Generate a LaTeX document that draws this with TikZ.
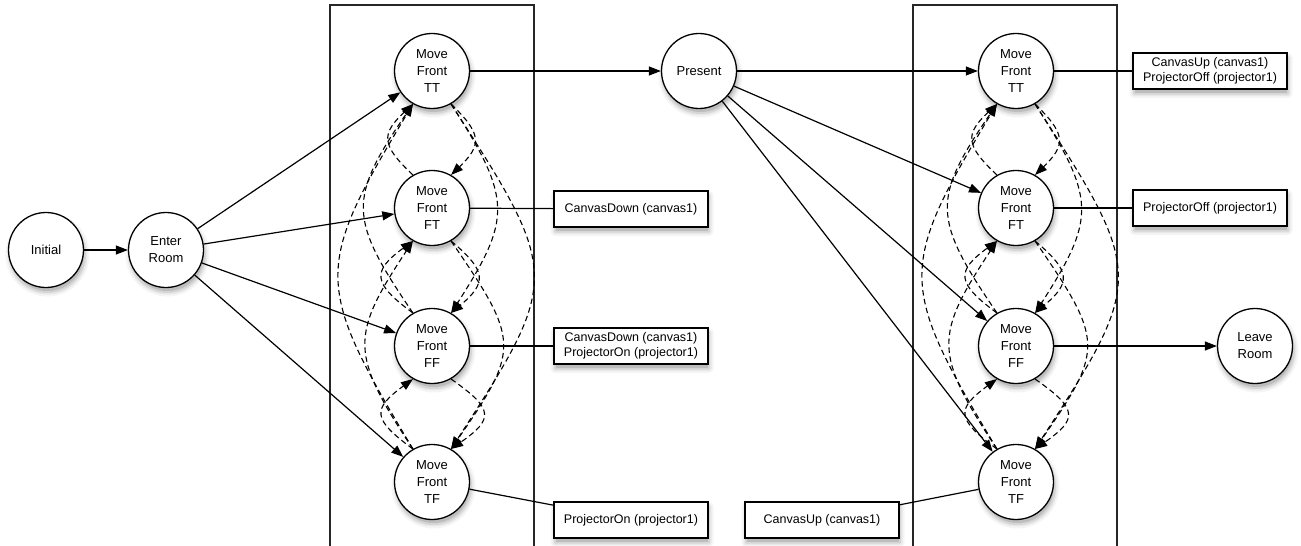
\documentclass[tikz,border=0pt]{standalone}
\usepackage{fontspec}
\setmainfont{Liberation Sans}
\usetikzlibrary{arrows.meta}

\tikzset{
  state/.style={circle, draw, fill=white, line width=1.3pt, minimum size=75pt,
    inner sep=0pt, align=center, font=\fontsize{13}{17}\selectfont},
  action/.style={rectangle, draw, fill=white, line width=1.3pt, minimum width=154pt,
    minimum height=36pt, inner sep=0pt, align=center, font=\fontsize{12.5}{15.5}\selectfont},
  lane/.style={draw=black!85, line width=1.2pt},
  flow/.style={line width=1.2pt, -{Triangle[length=12pt,width=9pt]}},
  link/.style={line width=1.2pt},
  trans/.style={line width=1.1pt, dash pattern=on 5.5pt off 3.5pt, -{Triangle[length=12pt,width=9pt]}},
}

% a state circle with a soft shadow below it: name, x, y, text
\newcommand\placestate[4]{%
  \begin{scope}[shift={(#2+1.5,#3-4.5)}]
    \fill[black!4]  (0,0) circle (42);
    \fill[black!9]  (0,0) circle (40);
    \fill[black!16] (0,0) circle (38.5);
    \fill[black!26] (0,0) circle (36.5);
  \end{scope}
  \node[state] (#1) at (#2,#3) {#4};}

% an action box with a soft shadow below it: name, x, y, text
\newcommand\placeaction[4]{%
  \begin{scope}[shift={(#2+1,#3-4.5)}]
    \fill[black!4,  rounded corners=4.5] (-81.5,-22.5) rectangle (81.5,22.5);
    \fill[black!9,  rounded corners=2.5] (-79.5,-20.5) rectangle (79.5,20.5);
    \fill[black!16, rounded corners=1]   (-78,-19) rectangle (78,19);
    \fill[black!26] (-76,-17) rectangle (76,17);
  \end{scope}
  \node[action] (#1) at (#2,#3) {#4};}

% all twelve moves between the four positions of one lane
\newcommand\moveedges[1]{%
  % downward moves leave the lower right and enter the upper right
  \draw[trans] (#1tt.-60) .. controls +(31,-30)   and +(31,30)   .. (#1ft.60);
  \draw[trans] (#1tt.-60) .. controls +(61,-95)   and +(61,95)   .. (#1ff.60);
  \draw[trans] (#1tt.-60) .. controls +(110,-170) and +(110,170) .. (#1tf.60);
  \draw[trans] (#1ft.-60) .. controls +(36,-30)   and +(36,30)   .. (#1ff.60);
  \draw[trans] (#1ft.-60) .. controls +(69,-100)  and +(69,100)  .. (#1tf.60);
  \draw[trans] (#1ff.-60) .. controls +(43,-30)   and +(43,30)   .. (#1tf.60);
  % upward moves leave the upper left and enter the lower left
  \draw[trans] (#1ft.120) .. controls +(-32,30)   and +(-32,-30)   .. (#1tt.-120);
  \draw[trans] (#1ff.120) .. controls +(-65,95)   and +(-65,-95)   .. (#1tt.-120);
  \draw[trans] (#1tf.120) .. controls +(-99,165)  and +(-99,-165)  .. (#1tt.-120);
  \draw[trans] (#1ff.120) .. controls +(-41,30)   and +(-41,-30)   .. (#1ft.-120);
  \draw[trans] (#1tf.120) .. controls +(-63,95)   and +(-63,-95)   .. (#1ft.-120);
  \draw[trans] (#1tf.120) .. controls +(-41,30)   and +(-41,-30)   .. (#1ff.-120);
}

\begin{document}
\begin{tikzpicture}[x=1pt,y=1pt]
\useasboundingbox (0,0) rectangle (1301,-546);

% lanes
\draw[lane] (330,-560) -- (330,-5) -- (534,-5) -- (534,-560);
\draw[lane] (913,-560) -- (913,-5) -- (1117,-5) -- (1117,-560);

% states
\placestate{init}{46}{-250}{Initial}
\placestate{enter}{166}{-250}{Enter\\Room}

\placestate{ltt}{432}{-71}{Move\\Front\\TT}
\placestate{lft}{432}{-208}{Move\\Front\\FT}
\placestate{lff}{432}{-346}{Move\\Front\\FF}
\placestate{ltf}{432}{-482}{Move\\Front\\TF}

\placestate{present}{699}{-71}{Present}

\placestate{rtt}{1016}{-71}{Move\\Front\\TT}
\placestate{rft}{1016}{-208}{Move\\Front\\FT}
\placestate{rff}{1016}{-346}{Move\\Front\\FF}
\placestate{rtf}{1016}{-482}{Move\\Front\\TF}

\placestate{leave}{1255}{-346}{Leave\\Room}

% device actions
\placeaction{a1}{631}{-209}{CanvasDown (canvas1)}
\placeaction{a2}{631}{-346}{CanvasDown (canvas1)\\ProjectorOn (projector1)}
\placeaction{a3}{631}{-520}{ProjectorOn (projector1)}
\placeaction{a4}{1210}{-71}{CanvasUp (canvas1)\\ProjectorOff (projector1)}
\placeaction{a5}{1210}{-208}{ProjectorOff (projector1)}
\placeaction{a6}{822}{-520}{CanvasUp (canvas1)}

% main flow
\draw[flow] (init) -- (enter);
\draw[flow] (enter) -- (ltt);
\draw[flow] (enter) -- (lft);
\draw[flow] (enter) -- (lff);
\draw[flow] (enter) -- (ltf);
\draw[flow] (ltt) -- (present);
\draw[flow] (present) -- (rtt);
\draw[flow] (present) -- (rft);
\draw[flow] (present) -- (rff);
\draw[flow] (present) -- (rtf);
\draw[flow] (rff) -- (leave);

% moves inside each lane
\moveedges{l}
\moveedges{r}

% actions attached to positions
\draw[link] (lft) -- (a1);
\draw[link] (lff) -- (a2);
\draw[link] (ltf) -- (a3);
\draw[link] (rtt) -- (a4);
\draw[link] (rft) -- (a5);
\draw[link] (a6) -- (rtf);
\end{tikzpicture}
\end{document}
